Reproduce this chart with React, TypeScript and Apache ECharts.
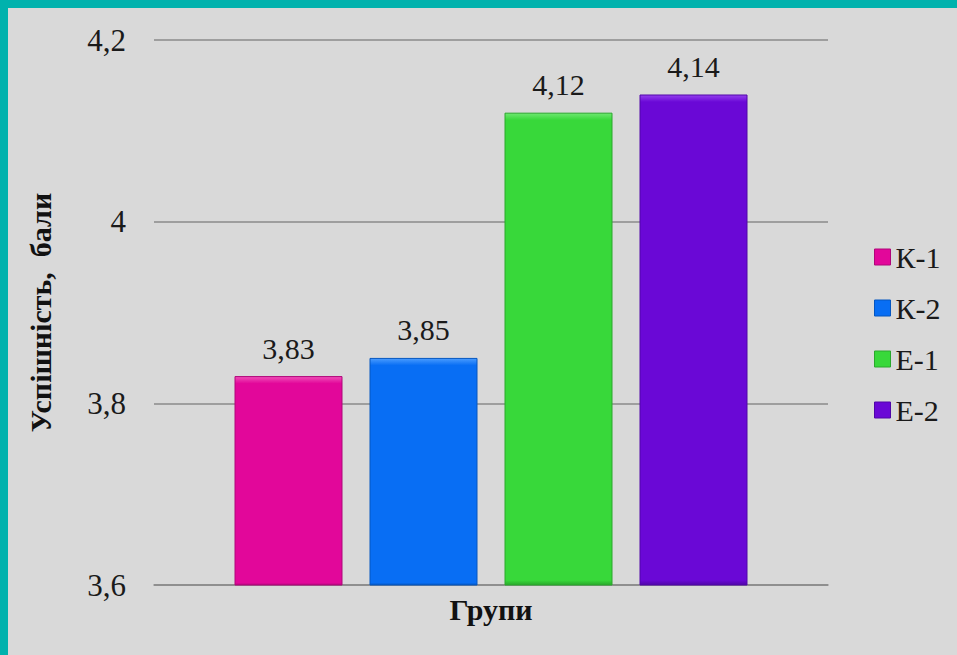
import React, { useEffect, useRef } from "react";
import * as echarts from "echarts";

const categories: string[] = ["Групи"];
const seriesNames: string[] = ["К-1", "К-2", "Е-1", "Е-2"];
const seriesValues: number[] = [3.83, 3.85, 4.12, 4.14];
const seriesColors: string[] = ["#e2079a", "#086ef4", "#38d83a", "#6a08d6"];
const seriesLight: string[] = ["#f050b8", "#4a9cff", "#6ee870", "#9440ee"];
const seriesDark: string[] = ["#b0067a", "#0556c0", "#2aa82c", "#5006a8"];
const yTicks = { min: 3.6, max: 4.2, interval: 0.2 };
const yAxisTitle = "Успішність,  бали";

const FONT = "Liberation Serif";

function fmt(v: number): string {
  return String(Math.round(v * 100) / 100).replace(".", ",");
}

export default function App() {
  const ref = useRef<HTMLDivElement>(null);
  useEffect(() => {
    if (!ref.current) return;
    const chart = echarts.init(ref.current, null, { renderer: "svg" });
    const plotH = 545;
    const series = seriesNames.map((name, i) => {
      const h = ((seriesValues[i] - yTicks.min) / (yTicks.max - yTicks.min)) * plotH;
      const b = Math.min(0.2, 7 / h);
      return {
        type: "bar",
        name,
        data: [seriesValues[i]],
        barWidth: 108,
        barGap: "25%",
        itemStyle: {
          color: {
            type: "linear",
            x: 0, y: 0, x2: 0, y2: 1,
            colorStops: [
              { offset: 0, color: seriesLight[i] },
              { offset: b, color: seriesColors[i] },
              { offset: 0.99, color: seriesColors[i] },
              { offset: 1, color: seriesDark[i] },
            ],
          },
          borderColor: seriesDark[i],
          borderWidth: 1,
        },
        label: {
          show: true,
          position: "top",
          distance: 13,
          formatter: (p: any) => fmt(p.value),
          fontFamily: FONT,
          fontWeight: "normal",
          fontStyle: "normal",
          fontSize: 30,
          color: "#1a1a1a",
        },
      };
    });
    chart.setOption({
      animation: false,
      backgroundColor: "#d9d9d9",
      textStyle: { fontFamily: FONT, fontWeight: "normal", fontStyle: "normal" },
      grid: { left: 146, right: 129, top: 32, bottom: 70 },
      legend: {
        orient: "vertical",
        left: 861,
        top: 229,
        itemWidth: 16,
        itemHeight: 16,
        itemGap: 21,
        icon: "rect",
        textStyle: { fontFamily: FONT, fontWeight: "normal", fontStyle: "normal", fontSize: 30, color: "#1a1a1a", lineHeight: 30 },
        data: seriesNames.map((n, i) => ({ name: n, itemStyle: { color: seriesColors[i], borderColor: seriesDark[i], borderWidth: 1 } })),
      },
      xAxis: {
        type: "category",
        data: categories,
        axisLine: { show: true, lineStyle: { color: "#8a8a8a", width: 1.5 } },
        axisTick: { show: false },
        axisLabel: { fontFamily: FONT, fontSize: 30, fontWeight: "bold", color: "#111", margin: 9 },
      },
      yAxis: {
        type: "value",
        min: yTicks.min,
        max: yTicks.max,
        interval: yTicks.interval,
        name: yAxisTitle,
        nameLocation: "middle",
        nameRotate: 90,
        nameGap: 99,
        nameTextStyle: { fontFamily: FONT, fontSize: 30, fontWeight: "bold", color: "#111" },
        axisLine: { show: false },
        axisTick: { show: false },
        axisLabel: {
          fontFamily: FONT,
          fontWeight: "normal",
          fontStyle: "normal",
          fontSize: 31,
          color: "#1a1a1a",
          margin: 28,
          formatter: (v: number) => fmt(v),
        },
        splitLine: { lineStyle: { color: "#8a8a8a", width: 1.5 } },
      },
      series,
    });
    return () => chart.dispose();
  }, []);
  return (
    <div style={{ position: "fixed", left: 0, top: 0, width: 957, height: 655, background: "#00b2ad" }}>
      <div ref={ref} style={{ position: "absolute", left: 8, top: 8, width: 949, height: 647 }} />
    </div>
  );
}
